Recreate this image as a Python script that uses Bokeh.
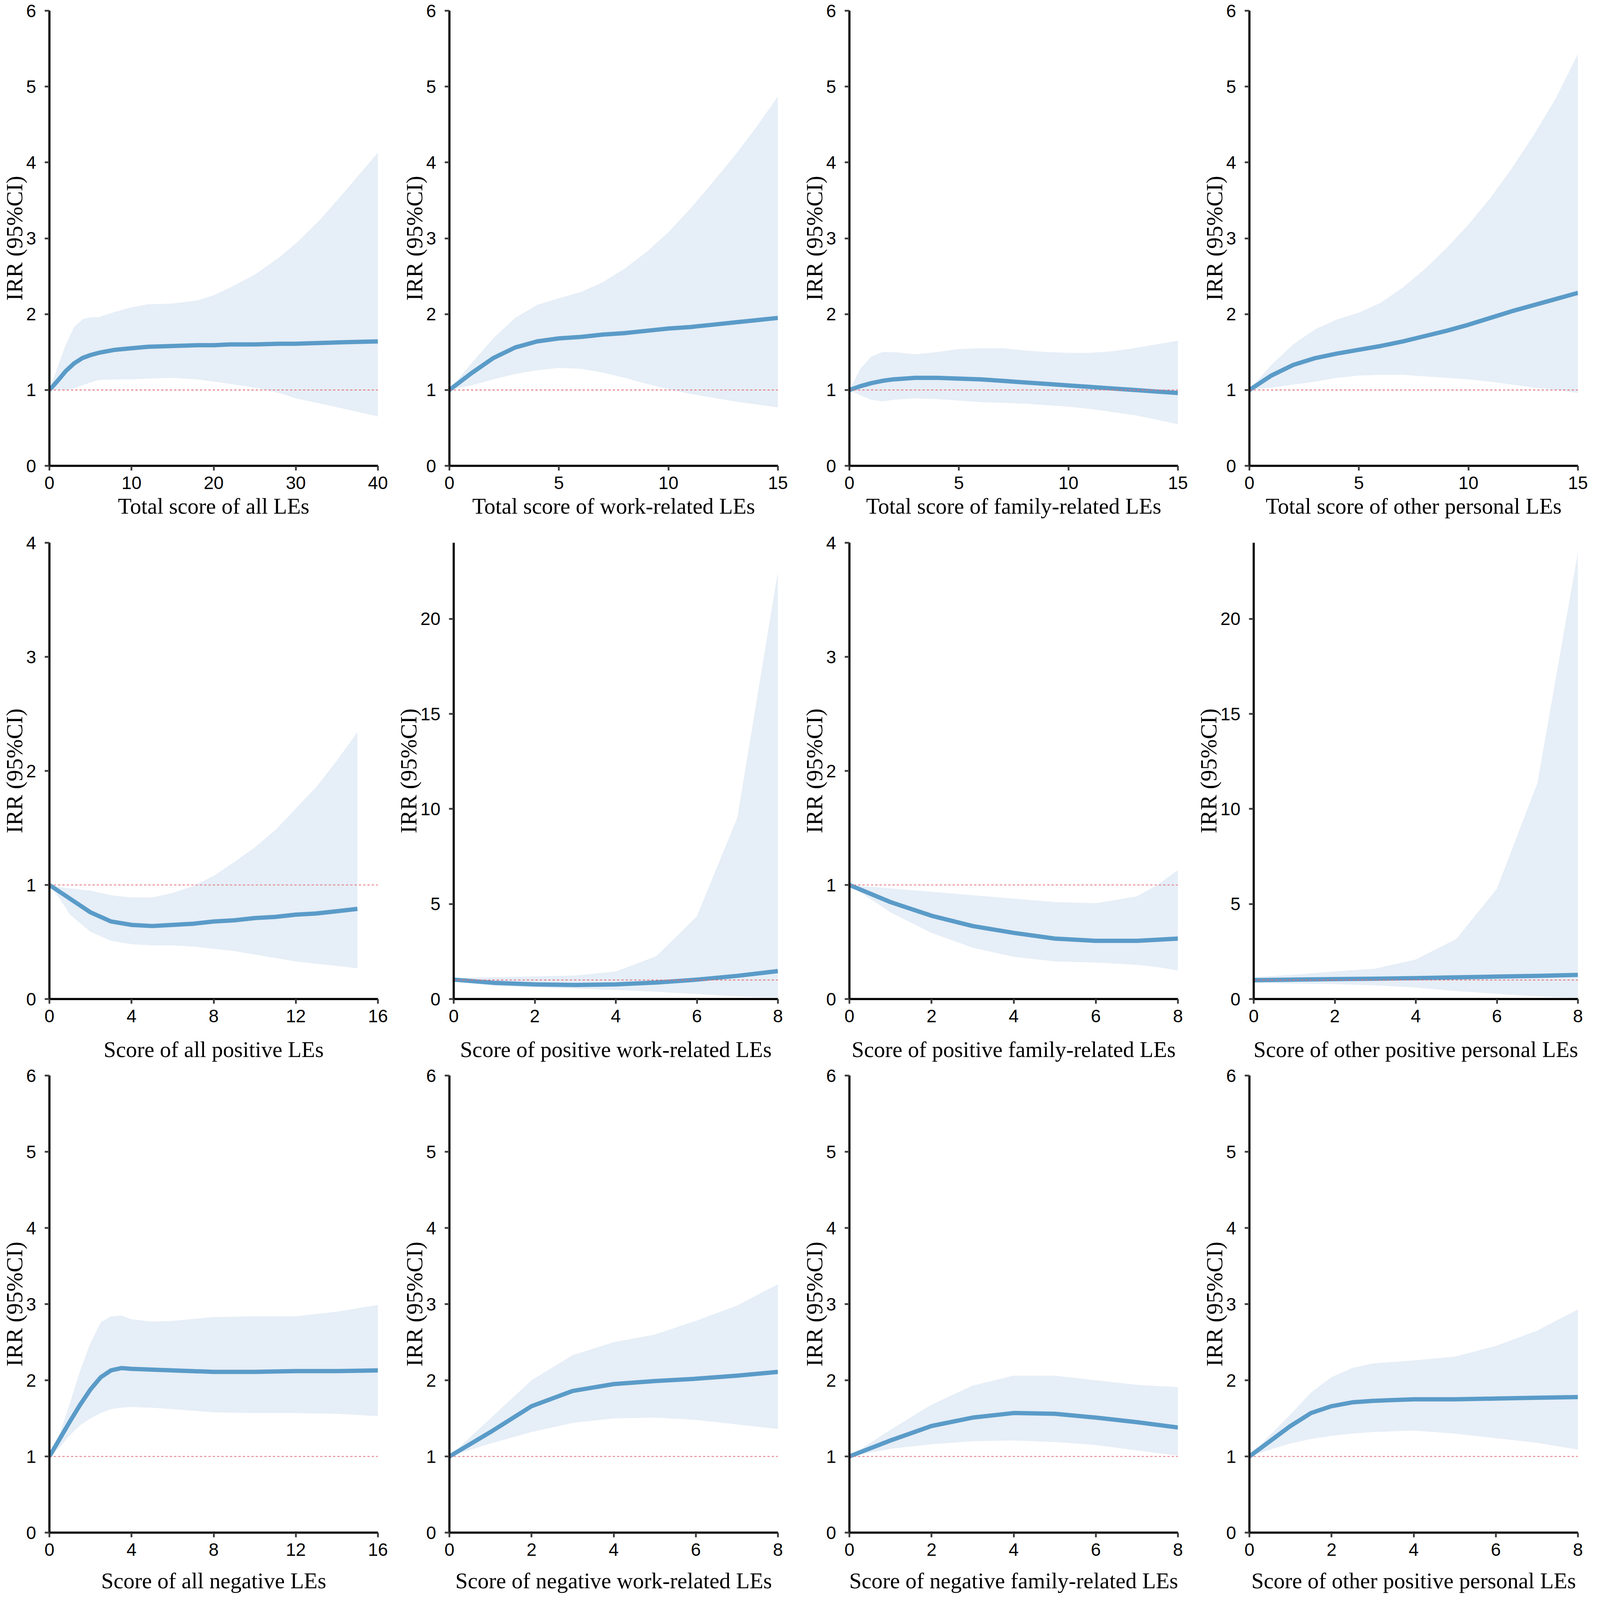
from bokeh.plotting import figure
from bokeh.models import Range1d, Span, FixedTicker
from bokeh.layouts import column, row
from bokeh.embed import file_html
from bokeh.resources import INLINE

# ---------------- data ----------------
# Row 1
p1_x = [0, 1, 2, 3, 4, 5, 6, 8, 10, 12, 15, 18, 20, 22, 25, 28, 30, 33, 36, 40]
p1_est = [1.0, 1.12, 1.25, 1.35, 1.42, 1.46, 1.49, 1.53, 1.55, 1.57, 1.58, 1.59, 1.59, 1.60, 1.60, 1.61, 1.61, 1.62, 1.63, 1.64]
p1_up = [1.0, 1.30, 1.60, 1.83, 1.93, 1.96, 1.96, 2.03, 2.09, 2.13, 2.14, 2.18, 2.25, 2.35, 2.52, 2.75, 2.93, 3.25, 3.62, 4.13]
p1_lo = [1.0, 1.0, 1.0, 1.02, 1.06, 1.10, 1.13, 1.14, 1.14, 1.15, 1.16, 1.14, 1.11, 1.08, 1.03, 0.96, 0.89, 0.82, 0.75, 0.65]

p2_x = [0, 1, 2, 3, 4, 5, 6, 7, 8, 9, 10, 11, 12, 13, 14, 15]
p2_est = [1.0, 1.22, 1.42, 1.56, 1.64, 1.68, 1.70, 1.73, 1.75, 1.78, 1.81, 1.83, 1.86, 1.89, 1.92, 1.95]
p2_up = [1.0, 1.35, 1.68, 1.95, 2.12, 2.21, 2.29, 2.42, 2.60, 2.82, 3.08, 3.39, 3.73, 4.08, 4.46, 4.87]
p2_lo = [1.0, 1.06, 1.14, 1.21, 1.26, 1.29, 1.28, 1.23, 1.16, 1.08, 1.01, 0.95, 0.90, 0.85, 0.81, 0.77]

p3_x = [0, 0.5, 1, 1.5, 2, 3, 4, 5, 6, 7, 8, 9, 10, 11, 12, 13, 14, 15]
p3_est = [1.0, 1.05, 1.09, 1.12, 1.14, 1.16, 1.16, 1.15, 1.14, 1.12, 1.10, 1.08, 1.06, 1.04, 1.02, 1.00, 0.98, 0.96]
p3_up = [1.0, 1.28, 1.44, 1.50, 1.50, 1.47, 1.50, 1.54, 1.55, 1.55, 1.52, 1.50, 1.49, 1.49, 1.51, 1.55, 1.60, 1.65]
p3_lo = [1.0, 0.93, 0.87, 0.85, 0.87, 0.89, 0.88, 0.86, 0.84, 0.83, 0.82, 0.80, 0.78, 0.75, 0.71, 0.67, 0.61, 0.55]

p4_x = [0, 1, 2, 3, 4, 5, 6, 7, 8, 9, 10, 11, 12, 13, 14, 15]
p4_est = [1.0, 1.19, 1.33, 1.42, 1.48, 1.53, 1.58, 1.64, 1.71, 1.78, 1.86, 1.95, 2.04, 2.12, 2.20, 2.28]
p4_up = [1.0, 1.33, 1.60, 1.80, 1.93, 2.02, 2.15, 2.35, 2.59, 2.87, 3.18, 3.53, 3.93, 4.37, 4.85, 5.43]
p4_lo = [1.0, 1.03, 1.07, 1.11, 1.16, 1.19, 1.20, 1.20, 1.18, 1.16, 1.14, 1.11, 1.07, 1.03, 1.00, 0.96]

# Row 2
p5_x = [0, 0.5, 1, 2, 3, 4, 5, 6, 7, 8, 9, 10, 11, 12, 13, 14, 15]
p5_est = [1.0, 0.94, 0.88, 0.76, 0.68, 0.65, 0.64, 0.65, 0.66, 0.68, 0.69, 0.71, 0.72, 0.74, 0.75, 0.77, 0.79]
p5_up = [1.0, 0.98, 0.97, 0.95, 0.91, 0.89, 0.89, 0.93, 0.99, 1.08, 1.20, 1.33, 1.48, 1.67, 1.86, 2.09, 2.34]
p5_lo = [1.0, 0.88, 0.74, 0.59, 0.51, 0.48, 0.47, 0.47, 0.46, 0.44, 0.42, 0.39, 0.36, 0.33, 0.31, 0.29, 0.27]

p6_x = [0, 1, 2, 3, 4, 5, 6, 7, 8]
p6_est = [1.02, 0.85, 0.77, 0.74, 0.77, 0.87, 1.02, 1.22, 1.47]
p6_up = [1.10, 1.15, 1.19, 1.24, 1.45, 2.25, 4.35, 9.55, 22.5]
p6_lo = [0.92, 0.70, 0.61, 0.55, 0.48, 0.38, 0.26, 0.14, 0.07]

p7_x = [0, 1, 2, 3, 4, 5, 6, 7, 7.5, 8]
p7_est = [1.0, 0.85, 0.73, 0.64, 0.58, 0.53, 0.51, 0.51, 0.52, 0.53]
p7_up = [1.0, 0.97, 0.94, 0.91, 0.88, 0.85, 0.84, 0.90, 1.00, 1.13]
p7_lo = [1.0, 0.76, 0.58, 0.45, 0.37, 0.33, 0.32, 0.30, 0.28, 0.25]

p8_x = [0, 1, 2, 3, 4, 5, 6, 7, 8]
p8_est = [0.99, 1.02, 1.05, 1.07, 1.10, 1.14, 1.18, 1.22, 1.27]
p8_up = [1.15, 1.28, 1.45, 1.60, 2.08, 3.16, 5.80, 11.36, 23.5]
p8_lo = [0.85, 0.81, 0.78, 0.72, 0.60, 0.42, 0.27, 0.14, 0.05]

# Row 3
p9_x = [0, 0.5, 1, 1.5, 2, 2.5, 3, 3.5, 4, 5, 6, 8, 10, 12, 14, 16]
p9_est = [1.0, 1.23, 1.46, 1.68, 1.88, 2.04, 2.13, 2.16, 2.15, 2.14, 2.13, 2.11, 2.11, 2.12, 2.12, 2.13]
p9_up = [1.0, 1.30, 1.70, 2.13, 2.49, 2.76, 2.84, 2.85, 2.80, 2.77, 2.78, 2.83, 2.84, 2.84, 2.90, 2.99]
p9_lo = [1.0, 1.12, 1.28, 1.41, 1.50, 1.57, 1.62, 1.64, 1.65, 1.64, 1.62, 1.58, 1.57, 1.57, 1.56, 1.53]

p10_x = [0, 1, 2, 3, 4, 5, 6, 7, 8]
p10_est = [1.0, 1.32, 1.66, 1.86, 1.95, 1.99, 2.02, 2.06, 2.11]
p10_up = [1.0, 1.50, 2.00, 2.33, 2.50, 2.60, 2.78, 2.98, 3.26]
p10_lo = [1.0, 1.17, 1.32, 1.44, 1.50, 1.51, 1.48, 1.42, 1.36]

p11_x = [0, 1, 2, 3, 4, 5, 6, 7, 8]
p11_est = [1.0, 1.21, 1.40, 1.51, 1.57, 1.56, 1.51, 1.45, 1.38]
p11_up = [1.0, 1.35, 1.68, 1.93, 2.06, 2.06, 2.00, 1.94, 1.91]
p11_lo = [1.0, 1.10, 1.16, 1.20, 1.21, 1.19, 1.15, 1.08, 1.01]

p12_x = [0, 0.5, 1, 1.5, 2, 2.5, 3, 4, 5, 6, 7, 8]
p12_est = [1.0, 1.20, 1.40, 1.57, 1.66, 1.71, 1.73, 1.75, 1.75, 1.76, 1.77, 1.78]
p12_up = [1.0, 1.28, 1.55, 1.84, 2.04, 2.16, 2.22, 2.26, 2.31, 2.45, 2.65, 2.93]
p12_lo = [1.0, 1.09, 1.17, 1.23, 1.27, 1.30, 1.32, 1.34, 1.30, 1.24, 1.18, 1.09]

x_labels = [
    ["Total score of all LEs", "Total score of work-related LEs",
     "Total score of family-related LEs", "Total score of other personal LEs"],
    ["Score of all positive LEs", "Score of positive work-related LEs",
     "Score of positive family-related LEs", "Score of other positive personal LEs"],
    ["Score of all negative LEs", "Score of negative work-related LEs",
     "Score of negative family-related LEs", "Score of other positive personal LEs"],
]
y_label = "IRR (95%CI)"

x_ticks = [
    [[0, 10, 20, 30, 40], [0, 5, 10, 15], [0, 5, 10, 15], [0, 5, 10, 15]],
    [[0, 4, 8, 12, 16], [0, 2, 4, 6, 8], [0, 2, 4, 6, 8], [0, 2, 4, 6, 8]],
    [[0, 4, 8, 12, 16], [0, 2, 4, 6, 8], [0, 2, 4, 6, 8], [0, 2, 4, 6, 8]],
]
y_ticks = [
    [[0, 1, 2, 3, 4, 5, 6]] * 4,
    [[0, 1, 2, 3, 4], [0, 5, 10, 15, 20], [0, 1, 2, 3, 4], [0, 5, 10, 15, 20]],
    [[0, 1, 2, 3, 4, 5, 6]] * 4,
]
x_max = [[40, 15, 15, 15], [16, 8, 8, 8], [16, 8, 8, 8]]
y_max = [[6, 6, 6, 6], [4, 24, 4, 24], [6, 6, 6, 6]]

series = [
    [(p1_x, p1_est, p1_up, p1_lo), (p2_x, p2_est, p2_up, p2_lo),
     (p3_x, p3_est, p3_up, p3_lo), (p4_x, p4_est, p4_up, p4_lo)],
    [(p5_x, p5_est, p5_up, p5_lo), (p6_x, p6_est, p6_up, p6_lo),
     (p7_x, p7_est, p7_up, p7_lo), (p8_x, p8_est, p8_up, p8_lo)],
    [(p9_x, p9_est, p9_up, p9_lo), (p10_x, p10_est, p10_up, p10_lo),
     (p11_x, p11_est, p11_up, p11_lo), (p12_x, p12_est, p12_up, p12_lo)],
]

# ---------------- layout / style ----------------
LINE_COLOR = "#5a9bc8"
BAND_COLOR = "#e6eef7"
REF_COLOR = "#e0707a"

# per row: figure widths, left and right borders (row 2 has two-digit y labels in cols 2 and 4)
std_w = [1024, 1024, 1024, 993]
std_l = [115, 115, 115, 115]
std_r = [57, 57, 57, 26]
r2_w = [1010, 1038, 1010, 1007]
r2_l = [115, 144, 115, 144]
r2_r = [43, 57, 43, 26]
widths = [std_w, r2_w, std_w]
lefts = [std_l, r2_l, std_l]
rights = [std_r, r2_r, std_r]

row_heights = [1364, 1364, 1352]
row_top = [27, 25, 25]
row_bottom = [172, 171, 156]
row_xlabel_standoff = [9, 35, 29]

rows = []
for r in range(3):
    figs = []
    for c in range(4):
        xs, est, up, lo = series[r][c]
        p = figure(width=widths[r][c], height=row_heights[r],
                   x_range=Range1d(0, x_max[r][c]), y_range=Range1d(0, y_max[r][c]),
                   output_backend="svg", toolbar_location=None,
                   min_border_left=lefts[r][c], min_border_right=rights[r][c],
                   min_border_top=row_top[r], min_border_bottom=row_bottom[r])
        p.outline_line_color = None
        p.xgrid.visible = False
        p.ygrid.visible = False
        p.background_fill_color = "white"
        p.border_fill_color = "white"

        p.varea(x=xs, y1=lo, y2=up, fill_color=BAND_COLOR, fill_alpha=1.0)
        ref = Span(location=1, dimension="width", line_color=REF_COLOR,
                   line_width=2.2, line_dash="6 5", level="glyph")
        p.add_layout(ref)
        p.line(x=xs, y=est, line_color=LINE_COLOR, line_width=11, line_join="round")

        p.xaxis.ticker = FixedTicker(ticks=x_ticks[r][c])
        p.yaxis.ticker = FixedTicker(ticks=y_ticks[r][c])
        p.xaxis.axis_label = x_labels[r][c]
        p.yaxis.axis_label = y_label

        for ax in (p.xaxis, p.yaxis):
            ax.axis_line_width = 5.5
            ax.axis_line_color = "black"
            ax.major_tick_line_width = 4.5
            ax.major_tick_line_color = "#3a3a3a"
            ax.major_tick_out = 12
            ax.major_tick_in = 0
            ax.minor_tick_out = 0
            ax.minor_tick_in = 0
            ax.major_label_text_font = "Liberation Sans"
            ax.major_label_text_font_size = "46px"
            ax.major_label_text_color = "black"
            ax.axis_label_text_font = "Liberation Serif"
            ax.axis_label_text_font_style = "normal"
            ax.axis_label_text_color = "black"
        p.xaxis.axis_label_text_font_size = "57px"
        p.yaxis.axis_label_text_font_size = "59px"
        p.xaxis.major_label_standoff = 15
        p.xaxis.axis_label_standoff = row_xlabel_standoff[r]
        p.yaxis.major_label_standoff = 22
        p.yaxis.axis_label_standoff = -6
        figs.append(p)
    rows.append(row(*figs, spacing=0))

layout = column(*rows, spacing=0)
open("out.html", "w").write(file_html(layout, INLINE))
